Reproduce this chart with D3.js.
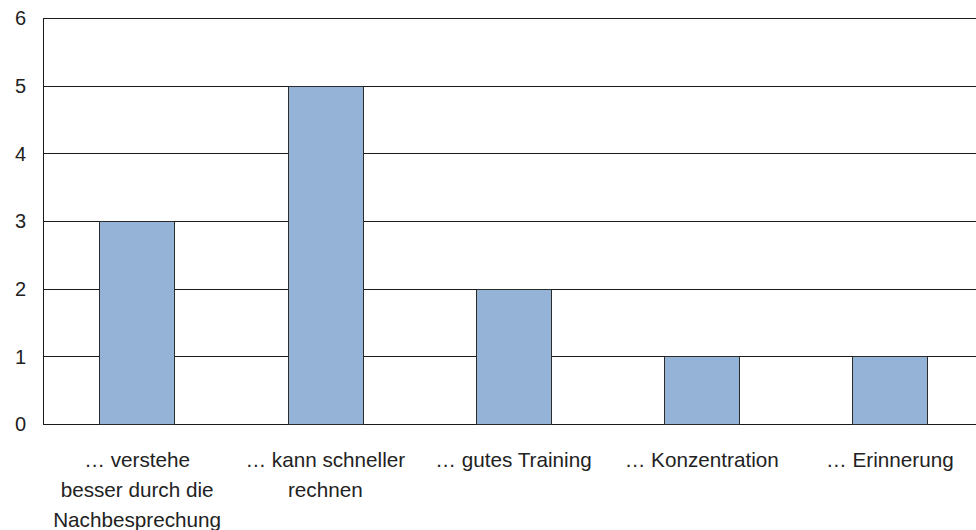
<!DOCTYPE html>
<html>
<head>
<meta charset="utf-8">
<script src="https://cdn.jsdelivr.net/npm/d3@7"></script>
<style>
  body { margin: 0; background: #fff; }
  text { font-family: "Liberation Sans", Arial, sans-serif; fill: #222; }
</style>
</head>
<body>
<div id="chart"></div>
<script>
// data
var categories = ["verstehe", "schneller", "training", "konzentration", "erinnerung"];
var categoryLines = [
  ["… verstehe", "besser durch die", "Nachbesprechung"],
  ["… kann schneller", "rechnen"],
  ["… gutes Training"],
  ["… Konzentration"],
  ["… Erinnerung"]
];
var values = [3, 5, 2, 1, 1];
var yTicks = [0, 1, 2, 3, 4, 5, 6];

var svgWidth = 976;
var svgHeight = 530;

var margin = { top: 18, left: 43, bottom: 106 };
// plot runs slightly past the right edge of the window, as in the original
var plotRight = 984;
var height = svgHeight - margin.top - margin.bottom;

var svg = d3.select("#chart")
  .append("svg")
  .attr("width", svgWidth)
  .attr("height", svgHeight);

var chartGroup = svg.append("g")
  .attr("transform", `translate(${margin.left}, ${margin.top})`);

var xScale = d3.scaleBand()
  .domain(categories)
  .range([0, plotRight - margin.left])
  .padding(0);

var yScale = d3.scaleLinear()
  .domain([0, 6])
  .range([height, 0]);

// gridlines
chartGroup.selectAll(".grid")
  .data(yTicks)
  .enter()
  .append("line")
  .attr("x1", 0)
  .attr("x2", plotRight - margin.left)
  .attr("y1", d => Math.round(yScale(d)) + 0.5)
  .attr("y2", d => Math.round(yScale(d)) + 0.5)
  .attr("stroke", "#1a1a1a")
  .attr("stroke-width", 1);

// y axis line
chartGroup.append("line")
  .attr("x1", 0.5).attr("x2", 0.5)
  .attr("y1", 0).attr("y2", height + 0.5)
  .attr("stroke", "#1a1a1a");

// y tick labels
chartGroup.selectAll(".ytick")
  .data(yTicks)
  .enter()
  .append("text")
  .attr("x", -17)
  .attr("y", d => yScale(d))
  .attr("dy", "0.36em")
  .attr("text-anchor", "end")
  .style("font-size", "20px")
  .text(d => d);

// bars
var bw = xScale.bandwidth() * 0.4;
chartGroup.selectAll(".bar")
  .data(values)
  .enter()
  .append("rect")
  .attr("x", (d, i) => Math.round(xScale(categories[i]) + xScale.bandwidth() * 0.3) + 0.5)
  .attr("y", d => Math.round(yScale(d)) + 0.5)
  .attr("width", Math.round(bw))
  .attr("height", d => Math.round(yScale(0)) - Math.round(yScale(d)))
  .attr("fill", "#95b3d7")
  .attr("stroke", "#2b2b2b")
  .attr("stroke-width", 1);

// category labels
var labelGroups = chartGroup.selectAll(".xlabel")
  .data(categoryLines)
  .enter()
  .append("text")
  .attr("text-anchor", "middle")
  .style("font-size", "20.7px")
  .attr("transform", (d, i) => `translate(${xScale(categories[i]) + xScale.bandwidth() / 2}, ${height + 43})`);

labelGroups.selectAll("tspan")
  .data(d => d)
  .enter()
  .append("tspan")
  .attr("x", 0)
  .attr("y", (d, j) => j * 30)
  .text(d => d);
</script>
</body>
</html>
